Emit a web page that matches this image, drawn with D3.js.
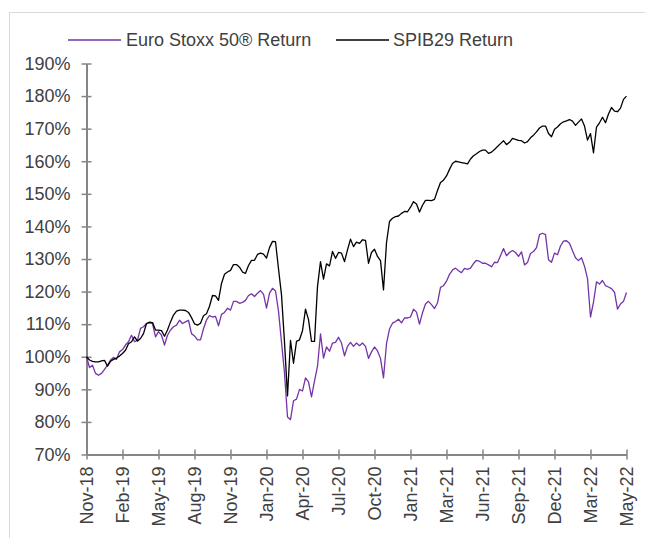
<!DOCTYPE html>
<html><head><meta charset="utf-8">
<script src="https://cdn.jsdelivr.net/npm/d3@7/dist/d3.min.js"></script>
<style>
html,body{margin:0;padding:0;background:#fff;}
svg{display:block;font-family:"Liberation Sans",Arial,sans-serif;}
</style></head>
<body>
<svg id="chart" width="645" height="538"></svg>
<script>
// Weekly series (index 0 = Nov-18), values in %
const spib29 = [
100,99.0,98.6,98.4,98.4,98.7,98.9,97.1,98.6,99.2,
99.6,100.2,101.0,102.0,104.0,104.6,106.1,104.8,105.6,107.1,
110.2,110.6,110.5,108.2,108.2,108.0,106.3,108.2,110.7,112.8,
114.0,114.3,114.3,114.2,113.6,112.0,110.1,109.7,110.3,112.6,
113.2,115.5,118.8,118.7,117.3,122.5,125.3,126.0,126.5,128.3,
128.3,127.5,126.0,125.6,128.0,129.6,129.6,131.4,131.8,131.5,
130.3,133.5,135.4,135.3,127.0,119.0,104.5,88.0,105.0,98.0,
104.7,105.2,108.0,114.6,111.4,104.7,104.7,121.6,129.2,123.8,
128.5,127.9,132.3,130.2,132.0,131.8,129.2,132.8,136.1,133.8,
135.2,134.8,135.9,135.7,128.7,132.0,133.0,130.8,129.5,120.5,
135.0,141.5,142.5,143.0,143.2,144.0,144.6,144.5,145.9,147.6,
146.9,144.4,146.5,148.0,148.0,147.9,148.3,151.0,153.5,154.2,
155.5,157.5,159.3,160.0,159.8,159.6,159.4,159.2,160.7,161.7,
162.3,163.0,163.4,163.4,162.4,162.8,163.6,164.5,165.4,166.3,
165.1,165.8,167.0,166.7,166.4,166.3,165.6,166.0,167.2,168.0,
169.0,170.2,170.8,170.8,168.5,167.5,169.8,170.5,171.5,172.1,
172.4,172.8,172.3,171.0,172.0,173.0,170.8,166.5,168.5,162.6,
170.5,171.8,173.5,171.8,174.5,176.5,175.4,175.2,176.3,179.0,
180.0
];
const euroStoxx = [
100,96.7,97.4,94.9,94.3,94.9,96.1,97.4,99.0,99.8,
99.2,101.5,102.2,103.6,104.6,106.6,104.6,105.1,108.7,109.2,
110.2,110.4,110.2,106.1,107.7,106.6,103.6,106.6,108.2,109.2,
109.7,111.2,110.2,110.7,111.2,107.1,106.4,105.2,105.2,108.6,
111.3,112.6,112.2,112.4,109.5,113.0,113.6,114.9,114.3,117.0,
117.0,116.4,116.7,117.3,118.8,119.3,118.5,119.5,120.3,119.2,
114.9,119.5,121.0,120.2,114.0,104.5,95.0,81.5,80.7,86.5,
87.0,90.0,89.5,93.5,92.3,87.7,92.5,97.1,107.0,99.6,
103.0,101.7,104.2,104.4,106.0,104.2,100.3,103.2,104.4,103.2,
104.2,103.4,104.2,103.2,99.5,101.5,103.0,101.8,99.5,93.5,
104.0,108.5,110.3,110.8,111.5,110.4,111.9,111.9,112.2,114.6,
113.7,110.0,113.5,116.2,117.0,116.0,114.8,116.5,121.3,121.8,
123.2,125.3,126.6,127.2,126.4,125.8,127.1,126.8,127.2,128.6,
129.6,129.3,128.7,128.7,128.2,127.6,129.0,128.9,131.0,133.2,
131.0,132.0,132.6,132.0,130.8,132.2,128.2,128.9,131.7,132.3,
133.5,137.5,137.9,137.5,129.8,129.0,131.8,131.3,134.0,135.5,
135.6,134.8,132.5,130.4,129.5,130.4,127.8,124.0,112.2,116.8,
123.0,122.3,123.4,121.8,121.4,120.9,119.8,114.6,116.2,117.0,
119.7
];
const tickLabels = ["Nov-18","Feb-19","May-19","Aug-19","Nov-19","Jan-20","Apr-20","Jul-20",
  "Oct-20","Jan-21","Mar-21","Jun-21","Sep-21","Dec-21","Mar-22","May-22"];
const yTicks = [70,80,90,100,110,120,130,140,150,160,170,180,190];
const seriesNames = ["Euro Stoxx 50® Return","SPIB29 Return"];
const seriesColors = ["#7434a8","#000000"];

(function(){
const svg = d3.select("#chart");
const pLeft = 86.5, pRight = 626.5, pTop = 63.5, pBottom = 454.5;
const n = spib29.length;
const step = (n - 1) / (tickLabels.length - 1);

// outer frame (runs off the right and bottom edges as in the reference crop)
svg.append("rect").attr("x",9.5).attr("y",12.5).attr("width",700).attr("height",600)
  .attr("fill","none").attr("stroke","#d9d9d9").attr("stroke-width",1);

const x = d3.scaleLinear().domain([0, n-1]).range([pLeft, pRight]);
const y = d3.scaleLinear().domain([70,190]).range([pBottom, pTop]);
const axisColor = "#868686", textColor = "#404040";

// y axis
const yAxis = d3.axisLeft(y).tickValues(yTicks).tickFormat(d => d + "%").tickSizeInner(5).tickSizeOuter(0).tickPadding(11);
const gy = svg.append("g").attr("transform",`translate(${pLeft},0)`).call(yAxis);
gy.select(".domain").attr("stroke",axisColor).attr("stroke-width",2);
gy.selectAll(".tick line").attr("stroke",axisColor).attr("stroke-width",1.5).attr("x2",5).attr("x1",-5);
gy.selectAll(".tick text").attr("fill",textColor).style("font-size","18px");

// x axis
const xAxis = d3.axisBottom(x).tickValues(d3.range(tickLabels.length).map(i => i*step))
  .tickFormat((d,i) => tickLabels[i]).tickSizeInner(5).tickSizeOuter(0);
const gx = svg.append("g").attr("transform",`translate(0,${pBottom})`).call(xAxis);
gx.select(".domain").attr("stroke",axisColor).attr("stroke-width",2);
gx.selectAll(".tick line").attr("stroke",axisColor).attr("stroke-width",1.5).attr("y1",-5).attr("y2",5);
gx.selectAll(".tick text").attr("fill",textColor).style("font-size","18px")
  .attr("transform","rotate(-90)").attr("text-anchor","end").attr("dy","0.35em")
  .attr("x",-12).attr("y",0);

// lines
const line = d3.line().x((d,i) => x(i)).y(d => y(d));
svg.append("path").datum(euroStoxx).attr("d",line).attr("fill","none")
  .attr("stroke",seriesColors[0]).attr("stroke-width",1.3).attr("stroke-linejoin","round");
svg.append("path").datum(spib29).attr("d",line).attr("fill","none")
  .attr("stroke",seriesColors[1]).attr("stroke-width",1.3).attr("stroke-linejoin","round");

// legend
const legendPos = [{lx:68, tx:126},{lx:336, tx:393}];
seriesNames.forEach((name,i) => {
  const g = svg.append("g");
  g.append("line").attr("x1",legendPos[i].lx).attr("x2",legendPos[i].lx+53).attr("y1",40).attr("y2",40)
    .attr("stroke",seriesColors[i]).attr("stroke-width",1.5);
  g.append("text").attr("x",legendPos[i].tx).attr("y",40).attr("dy","0.35em")
    .attr("fill",textColor).style("font-size","18px").text(name);
});
})();
</script>
</body></html>
